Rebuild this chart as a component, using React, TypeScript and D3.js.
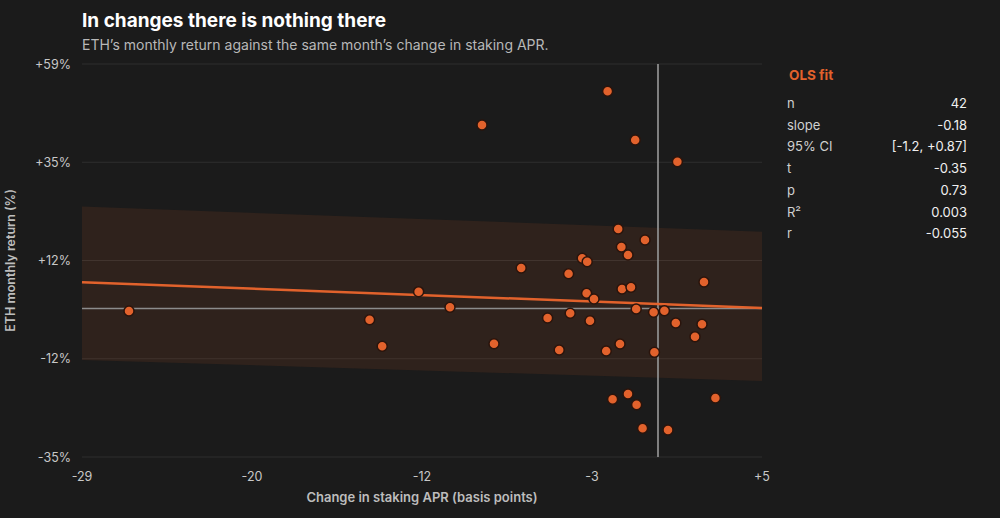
import { useEffect, useRef } from 'react';
import * as d3 from 'd3';

// change in staking APR (bp) vs ETH monthly return (%)
const aprChange = [
  -26.45, -14.42, -13.79, -11.97, -10.4, -8.8, -8.2, -6.84, -5.52, -4.94,
  -4.47, -4.39, -3.79, -3.54, -3.57, -3.4, -3.2, -2.59, -2.52, -2.27,
  -1.99, -1.9, -1.83, -1.8, -1.5, -1.5, -1.35, -1.14, -1.07, -1.09,
  -0.77, -0.65, -0.22, -0.18, 0.32, 0.5, 0.89, 0.97, 1.85, 2.2,
  2.3, 2.87,
];
const ethReturn = [
  -0.58, -2.66, -9.02, 4.04, 0.31, 43.9, -8.4, 9.71, -2.25, -9.9,
  8.34, -1.13, 12.03, 11.21, 3.66, -2.9, 2.29, -10.14, 51.97, -21.7,
  19.04, -8.47, 14.73, 4.69, 12.82, -20.43, 5.09, 40.32, -22.99, -0.1,
  -28.63, 16.4, -0.89, -10.46, -0.5, -29.04, -3.45, 35.13, -6.72, -3.76,
  6.36, -21.39,
];

// OLS fit line and prediction band at the ends of the x range
const fitIntercept = 1.1;
const fitSlope = -0.18;
const bandX = [-28.8, 5.2];
const bandLower = [-12.3, -17.3];
const bandUpper = [24.4, 18.4];

const xDomain = [-28.8, 5.2];
const yDomain = [-35.5, 58.5];
const xTickLabels = ['-29', '-20', '-12', '-3', '+5'];
const yTickLabels = ['+59%', '+35%', '+12%', '-12%', '-35%'];

const statLabels = ['n', 'slope', '95% CI', 't', 'p', 'R²', 'r'];
const statValues = ['42', '-0.18', '[-1.2, +0.87]', '-0.35', '0.73', '0.003', '-0.055'];

const ORANGE = '#e2622c';
const FONT = 'Inter, "Noto Sans", sans-serif';

const App = () => {
  const ref = useRef<SVGSVGElement>(null);

  useEffect(() => {
    document.body.style.margin = '0';
    document.body.style.background = '#1b1b1b';

    const margin = { top: 64, right: 238, bottom: 61, left: 82 };
    const W = 1000;
    const H = 518;
    const width = W - margin.left - margin.right;
    const height = H - margin.top - margin.bottom;

    const root = d3.select(ref.current);
    root.selectAll('*').remove();
    root.append('rect').attr('width', W).attr('height', H).attr('fill', '#1b1b1b');

    const svg = root.append('g')
      .attr('transform', 'translate(' + margin.left + ',' + margin.top + ')');

    const x = d3.scaleLinear().domain(xDomain).range([0, width]);
    const y = d3.scaleLinear().domain(yDomain).range([height, 0]);

    const xTicks = d3.range(5).map((i) => xDomain[0] + (i * (xDomain[1] - xDomain[0])) / 4);
    const yTicks = d3.range(5).map((i) => yDomain[1] - (i * (yDomain[1] - yDomain[0])) / 4);

    // gridlines
    svg.selectAll('.grid')
      .data(yTicks)
      .enter()
      .append('line')
      .attr('x1', 0)
      .attr('x2', width)
      .attr('y1', (d) => y(d))
      .attr('y2', (d) => y(d))
      .attr('stroke', '#2f2f2f')
      .attr('stroke-width', 1);

    // prediction band
    const band = d3.area<number>()
      .x((_, i) => x(bandX[i]))
      .y0((_, i) => y(bandLower[i]))
      .y1((_, i) => y(bandUpper[i]));
    svg.append('path')
      .datum(bandX)
      .attr('d', band)
      .attr('fill', ORANGE)
      .attr('fill-opacity', 0.1);

    // zero lines
    svg.append('line')
      .attr('x1', 0).attr('x2', width)
      .attr('y1', y(0)).attr('y2', y(0))
      .attr('stroke', '#8c8c8c')
      .attr('stroke-width', 1.5);
    svg.append('line')
      .attr('x1', x(0)).attr('x2', x(0))
      .attr('y1', 0).attr('y2', height)
      .attr('stroke', '#8c8c8c')
      .attr('stroke-width', 1.8);

    // fit line
    const line = d3.line<number>()
      .x((d) => x(d))
      .y((d) => y(fitIntercept + fitSlope * d));
    svg.append('path')
      .datum(xDomain)
      .attr('d', line)
      .attr('fill', 'none')
      .attr('stroke', ORANGE)
      .attr('stroke-width', 2.5);

    // points
    svg.selectAll('.pt')
      .data(aprChange.map((v, i) => [v, ethReturn[i]]))
      .enter()
      .append('circle')
      .attr('cx', (d) => x(d[0]))
      .attr('cy', (d) => y(d[1]))
      .attr('r', 5)
      .attr('fill', ORANGE)
      .attr('stroke', '#2a140c')
      .attr('stroke-width', 1.5);

    // axes labels
    svg.selectAll('.xt')
      .data(xTicks)
      .enter()
      .append('text')
      .attr('x', (d) => x(d))
      .attr('y', height + 24)
      .attr('text-anchor', 'middle')
      .attr('fill', '#c8c8c8')
      .attr('font-size', 12.5)
      .attr('font-family', FONT)
      .text((_, i) => xTickLabels[i]);

    svg.selectAll('.yt')
      .data(yTicks)
      .enter()
      .append('text')
      .attr('x', -11)
      .attr('y', (d) => y(d) + 4.5)
      .attr('text-anchor', 'end')
      .attr('fill', '#c8c8c8')
      .attr('font-size', 12.5)
      .attr('font-family', FONT)
      .text((_, i) => yTickLabels[i]);

    svg.append('text')
      .attr('x', width / 2)
      .attr('y', height + 45)
      .attr('text-anchor', 'middle')
      .attr('fill', '#bdbdbd')
      .attr('font-size', 13)
      .attr('font-weight', 600)
      .attr('font-family', FONT)
      .text('Change in staking APR (basis points)');

    svg.append('text')
      .attr('transform', 'translate(' + (-67) + ',' + height / 2 + ') rotate(-90)')
      .attr('text-anchor', 'middle')
      .attr('fill', '#bdbdbd')
      .attr('font-size', 12.5)
      .attr('font-weight', 600)
      .attr('font-family', FONT)
      .text('ETH monthly return (%)');

    // title
    root.append('text')
      .attr('x', 82)
      .attr('y', 27)
      .attr('fill', '#ffffff')
      .attr('font-size', 19)
      .attr('font-weight', 700)
      .attr('font-family', FONT)
      .text('In changes there is nothing there');
    root.append('text')
      .attr('x', 82)
      .attr('y', 50)
      .attr('fill', '#b8b8b8')
      .attr('font-size', 14)
      .attr('font-family', FONT)
      .text('ETH’s monthly return against the same month’s change in staking APR.');

    // stats panel
    const panel = root.append('g').attr('transform', 'translate(787,0)');
    panel.append('text')
      .attr('x', 2)
      .attr('y', 80)
      .attr('fill', ORANGE)
      .attr('font-size', 13.5)
      .attr('font-weight', 700)
      .attr('font-family', FONT)
      .text('OLS fit');
    statLabels.forEach((lab, i) => {
      const yy = 108 + i * 21.7;
      panel.append('text')
        .attr('x', 0)
        .attr('y', yy)
        .attr('fill', '#d0d0d0')
        .attr('font-size', 13)
        .attr('font-family', FONT)
        .text(lab);
      panel.append('text')
        .attr('x', 180)
        .attr('y', yy)
        .attr('text-anchor', 'end')
        .attr('fill', '#f0f0f0')
        .attr('font-size', 13)
        .attr('font-family', FONT)
        .text(statValues[i]);
    });
  }, []);

  return <svg ref={ref} width={1000} height={518} style={{ display: 'block' }}></svg>;
};

export default App;
